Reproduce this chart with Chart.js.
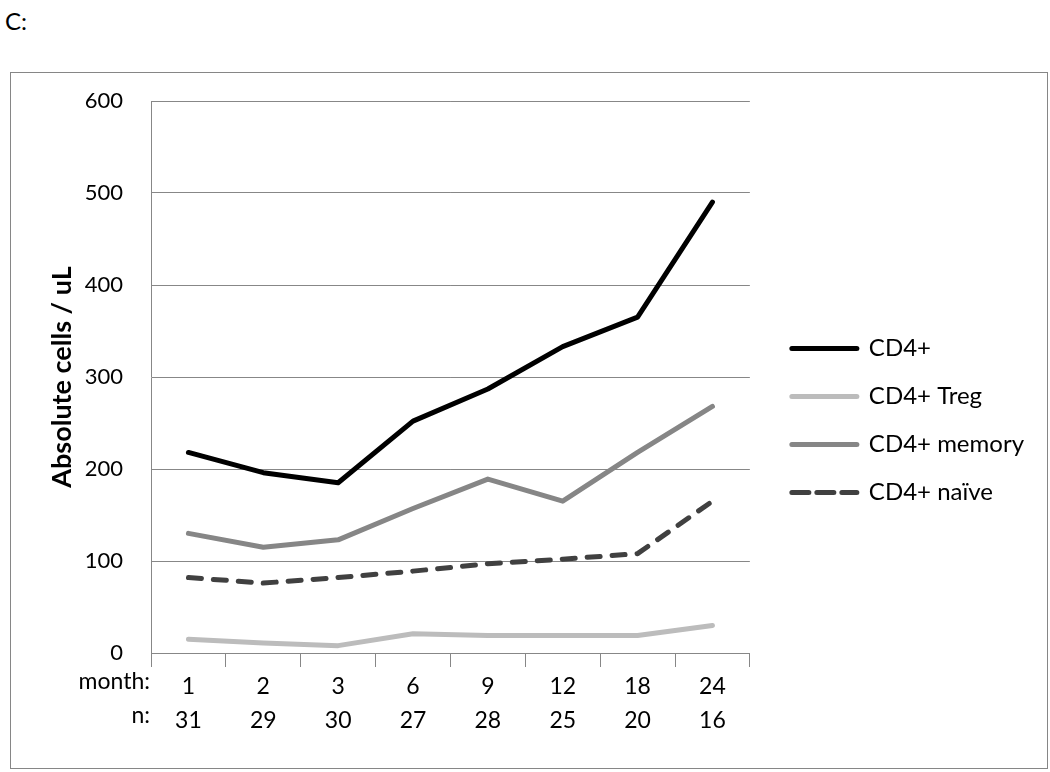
<!DOCTYPE html>
<html>
<head>
<meta charset="utf-8">
<script src="https://cdn.jsdelivr.net/npm/chart.js@4.4.0/dist/chart.umd.min.js"></script>
<style>
    body { margin: 0; background: #fff; width: 1050px; height: 772px; overflow: hidden; font-family: Lato, sans-serif; }
    #tag { position: absolute; left: 5px; top: 6px; font-size: 24px; color: #000; }
    #box { position: absolute; left: 10px; top: 72px; width: 1036px; height: 695px; border: 1px solid #868686; }
</style>
</head>
<body>
<div id="tag">C:</div>
<div id="box"><canvas id="chart"></canvas></div>
<script>
// tick labels
const months = ['1', '2', '3', '6', '9', '12', '18', '24'];
const nCounts = ['31', '29', '30', '27', '28', '25', '20', '16'];

// series (absolute cells / uL)
const cd4 = [218, 196, 185, 252, 287, 333, 365, 490];
const treg = [15, 11, 8, 21, 19, 19, 19, 30];
const memory = [130, 115, 123, 157, 189, 165, 218, 268];
const naive = [82, 76, 82, 89, 97, 102, 108, 165];

const FONT = 'Lato';
const gridGray = '#878787';

// "month:" and "n:" row captions left of the tick labels
const rowLabels = {
    id: 'rowLabels',
    afterDraw(chart) {
        const { ctx, scales: { x } } = chart;
        ctx.save();
        ctx.font = `23px ${FONT}`;
        ctx.fillStyle = '#000';
        ctx.textAlign = 'right';
        ctx.textBaseline = 'top';
        const y0 = x.top + 14 + 3;
        ctx.fillText('month:', x.left - 1, y0);
        ctx.fillText('n:', x.left - 1, y0 + 34);
        ctx.restore();
    }
};

const line = (label, data, color, dash, legendDash) => ({
    label,
    data,
    borderColor: color,
    backgroundColor: color,
    borderWidth: 5,
    borderCapStyle: 'round',
    borderJoinStyle: 'round',
    borderDash: dash || [],
    legendDash: legendDash || [],
    pointRadius: 0,
    pointStyle: 'line',
    tension: 0,
    fill: false
});

new Chart(document.getElementById('chart'), {
    type: 'line',
    data: {
        labels: months.map((m, i) => [m, nCounts[i]]),
        datasets: [
            line('CD4+', cd4, '#000000'),
            line('CD4+ Treg', treg, '#bcbcbc'),
            line('CD4+ memory', memory, '#868686'),
            line('CD4+ naïve', naive, '#404040', [13, 12], [17, 8])
        ]
    },
    options: {
        responsive: true,
        maintainAspectRatio: false,
        animation: false,
        layout: { padding: { left: 0, top: 15, right: 13, bottom: 15 } },
        plugins: {
            legend: {
                position: 'right',
                maxWidth: 400,
                labels: {
                    usePointStyle: true,
                    pointStyleWidth: 65,
                    boxHeight: 4,
                    padding: 24,
                    color: '#000',
                    font: { family: FONT, size: 24 },
                    generateLabels: (chart) =>
                        Chart.defaults.plugins.legend.labels.generateLabels(chart).map(item => {
                            const ds = chart.data.datasets[item.datasetIndex];
                            return { ...item, lineWidth: 5, lineCap: 'round', lineDash: ds.legendDash, strokeStyle: ds.borderColor };
                        })
                }
            },
            tooltip: { enabled: false }
        },
        scales: {
            x: {
                offset: true,
                grid: { offset: true, drawOnChartArea: false, drawTicks: true, tickLength: 14, color: gridGray },
                border: { color: gridGray },
                ticks: { color: '#000', padding: 3, maxRotation: 0, font: { family: FONT, size: 23, lineHeight: '34px' } },
                afterFit: (s) => { s.height = 100; }
            },
            y: {
                min: 0,
                max: 600,
                ticks: { stepSize: 100, color: '#000', padding: 28, font: { family: FONT, size: 22 } },
                grid: { color: gridGray, drawTicks: false },
                border: { color: gridGray },
                title: {
                    display: true,
                    text: 'Absolute cells / uL',
                    color: '#000',
                    padding: { top: 35, bottom: 0 },
                    font: { family: FONT, size: 27, weight: 'bold' }
                },
                afterFit: (s) => { s.width = 140; s.paddingTop = 28; }
            },
            yGap: {
                position: 'right',
                display: true,
                grid: { display: false },
                border: { display: false },
                ticks: { display: false },
                afterFit: (s) => { s.width = 18; }
            }
        }
    },
    plugins: [rowLabels]
});
</script>
</body>
</html>
